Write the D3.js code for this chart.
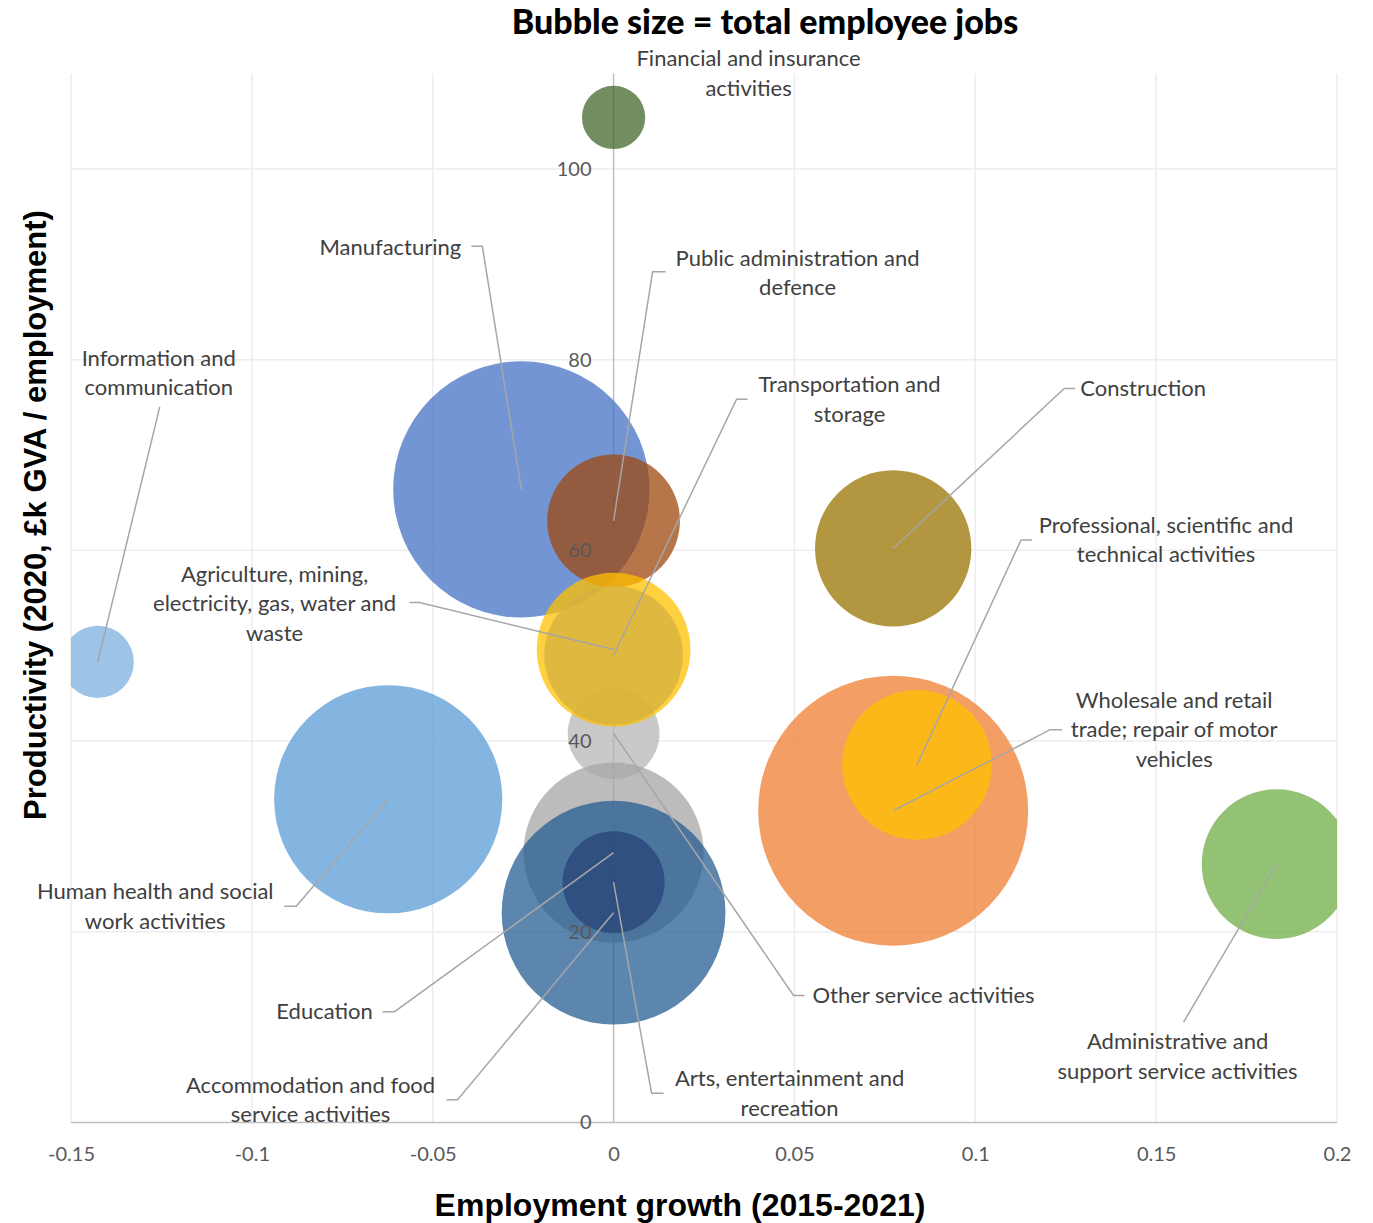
<!DOCTYPE html>
<html>
<head>
<meta charset="utf-8">
<script src="https://cdn.jsdelivr.net/npm/d3@7"></script>
<style>
  body { margin: 0; background: #fff; }
  svg { display: block; }
  .lbl { font-family: Lato, "Open Sans", sans-serif; font-size: 22px; fill: #404040; }
  .tick text { font-family: Lato, "Open Sans", sans-serif; font-size: 20px; fill: #595959; }
</style>
</head>
<body>
<div id="vizholder"></div>
<script>
// sectors, drawn bottom to top
var sectors = ["Manufacturing", "Other service activities", "Education",
  "Accommodation and food service activities", "Arts, entertainment and recreation",
  "Public administration and defence", "Agriculture, mining, electricity, gas, water and waste",
  "Transportation and storage", "Wholesale and retail trade; repair of motor vehicles",
  "Professional, scientific and technical activities", "Construction",
  "Human health and social work activities", "Information and communication",
  "Administrative and support service activities", "Financial and insurance activities"];
// employment growth 2015-2021
var growth = [-0.0255, 0.0, 0.0, 0.0, 0.0, 0.0, 0.0, 0.0, 0.0773, 0.0839, 0.0773, -0.0623, -0.1426, 0.1833, 0.0];
// productivity, £k GVA per employment
var productivity = [66.4, 40.8, 28.3, 22.0, 25.2, 63.1, 49.6, 49.0, 32.7, 37.5, 60.2, 33.9, 48.3, 27.1, 105.4];
// total employee jobs (thousands)
var jobs = [164, 21, 81, 125, 26, 44, 59, 48, 182, 56, 61, 130, 13, 56, 10];

var xTicks = [-0.15, -0.1, -0.05, 0, 0.05, 0.1, 0.15, 0.2];
var xTickLabels = ["-0.15", "-0.1", "-0.05", "0", "0.05", "0.1", "0.15", "0.2"];
var yTicks = [0, 20, 40, 60, 80, 100];

// label text split in lines
var labelLines = [
  ["Manufacturing"], ["Other service activities"], ["Education"],
  ["Accommodation and food", "service activities"], ["Arts, entertainment and", "recreation"],
  ["Public administration and", "defence"], ["Agriculture, mining,", "electricity, gas, water and", "waste"],
  ["Transportation and", "storage"], ["Wholesale and retail", "trade; repair of motor", "vehicles"],
  ["Professional, scientific and", "technical activities"], ["Construction"],
  ["Human health and social", "work activities"], ["Information and", "communication"],
  ["Administrative and", "support service activities"], ["Financial and insurance", "activities"]];

var colors = ["#4472C4", "#B7B7B7", "#A5A5A5", "#255E91", "#264478", "#9E480E", "#FFC000",
  "#D4B040", "#ED7D31", "#FFC000", "#997300", "#5B9BD5", "#7CAFDD", "#70AD47", "#43682B"];

// text centre offset [dx, dy] and leader points (elbow, stub end) from bubble centre
var labelLayout = [
  {t: [-131, -242], p: [[-39, -243], [-50, -243]]},
  {t: [310, 262], p: [[180, 262], [191, 262]]},
  {t: [-289, 159], p: [[-219, 159], [-231, 159]]},
  {t: [-303, 187], p: [[-156, 187], [-167, 187]]},
  {t: [176, 211], p: [[38, 211], [50, 211]]},
  {t: [184, -248], p: [[39, -249], [52, -249]]},
  {t: [-339, -46], p: [[-194, -47], [-204, -47]]},
  {t: [236, -256], p: [[123, -256], [134, -256]]},
  {t: [281, -81], p: [[157, -81], [169, -81]]},
  {t: [249, -225], p: [[104, -225], [115, -225]]},
  {t: [250, -160], p: [[171, -160], [182, -160]]},
  {t: [-233, 107], p: [[-92, 107], [-104, 107]]},
  {t: [61, -289], p: [[62, -255]]},
  {t: [-99, 192], p: [[-93, 158]]},
  {t: [135, -44], p: []}
];

var W = 1373, H = 1223;
var svg = d3.select("#vizholder").append("svg").attr("width", W).attr("height", H);

var x = d3.scaleLinear().domain([-0.15, 0.2]).range([71, 1337]);
var y = d3.scaleLinear().domain([0, 110]).range([1122.5, 73.6]);
var r = d3.scaleSqrt().domain([0, 182]).range([0, 135]);

// gridlines
svg.append("g").selectAll("line").data(yTicks.slice(1)).enter().append("line")
  .attr("x1", x(-0.15)).attr("x2", x(0.2))
  .attr("y1", function(d){ return y(d); }).attr("y2", function(d){ return y(d); })
  .attr("stroke", "#EDEDED").attr("stroke-width", 1.5);
svg.append("g").selectAll("line").data(xTicks.filter(function(d){ return d !== 0; })).enter().append("line")
  .attr("x1", function(d){ return x(d); }).attr("x2", function(d){ return x(d); })
  .attr("y1", y(110)).attr("y2", y(0))
  .attr("stroke", "#EDEDED").attr("stroke-width", 1.5);

// axis lines
svg.append("line").attr("x1", x(0)).attr("x2", x(0)).attr("y1", y(110)).attr("y2", y(0))
  .attr("stroke", "#BFBFBF").attr("stroke-width", 1.5);
svg.append("line").attr("x1", x(-0.15)).attr("x2", x(0.2)).attr("y1", y(0)).attr("y2", y(0))
  .attr("stroke", "#BFBFBF").attr("stroke-width", 1.5);

svg.append("clipPath").attr("id", "plotclip").append("rect")
  .attr("x", x(-0.15)).attr("y", y(110)).attr("width", x(0.2) - x(-0.15)).attr("height", y(0) - y(110));

var data = sectors.map(function(s, i){
  return {name: s, gx: growth[i], py: productivity[i], jobs: jobs[i], color: colors[i],
    lines: labelLines[i], lay: labelLayout[i]};
});

svg.append("g").attr("clip-path", "url(#plotclip)")
  .selectAll("circle").data(data).enter().append("circle")
  .attr("cx", function(d){ return x(d.gx); })
  .attr("cy", function(d){ return y(d.py); })
  .attr("r", function(d){ return r(d.jobs); })
  .style("fill", function(d){ return d.color; })
  .style("fill-opacity", 0.75);

// leader lines
svg.append("g").selectAll("polyline").data(data.filter(function(d){ return d.lay.p.length; }))
  .enter().append("polyline")
  .attr("points", function(d){
    var cx = x(d.gx), cy = y(d.py);
    var pts = [[cx, cy]].concat(d.lay.p.map(function(p){ return [cx + p[0], cy + p[1]]; }));
    return pts.map(function(p){ return p.join(","); }).join(" ");
  })
  .attr("fill", "none").attr("stroke", "#A6A6A6").attr("stroke-width", 1.5);

// axes tick labels
var xAxis = svg.append("g").attr("transform", "translate(0," + y(0) + ")")
  .call(d3.axisBottom(x).tickValues(xTicks).tickSize(0).tickPadding(24)
    .tickFormat(function(d, i){ return xTickLabels[i]; }));
xAxis.select(".domain").remove();

var yAxis = svg.append("g").attr("transform", "translate(" + x(0) + ",0)")
  .call(d3.axisLeft(y).tickValues(yTicks).tickSize(0).tickPadding(22));
yAxis.select(".domain").remove();

// data labels
var lbl = svg.append("g").selectAll("text").data(data).enter().append("text")
  .attr("class", "lbl")
  .attr("text-anchor", "middle");
lbl.each(function(d){
  var cx = x(d.gx) + d.lay.t[0], cy = y(d.py) + d.lay.t[1];
  var n = d.lines.length;
  d3.select(this).selectAll("tspan").data(d.lines).enter().append("tspan")
    .attr("x", cx)
    .attr("y", function(l, i){ return cy + (i - (n - 1) / 2) * 29.5; })
    .attr("dy", "0.35em")
    .text(function(l){ return l; });
});

// titles
svg.append("text").attr("x", 765).attr("y", 34).attr("text-anchor", "middle")
  .style("font-family", "Lato, sans-serif").style("font-weight", "900").style("font-size", "34px")
  .text("Bubble size = total employee jobs");

svg.append("text").attr("x", 680).attr("y", 1216).attr("text-anchor", "middle")
  .style("font-family", "'Liberation Sans', Arial, sans-serif").style("font-weight", "bold").style("font-size", "32px")
  .text("Employment growth (2015-2021)");

svg.append("text").attr("transform", "translate(46,515) rotate(-90)").attr("text-anchor", "middle")
  .style("font-family", "'Liberation Sans', Arial, sans-serif").style("font-weight", "bold").style("font-size", "31px")
  .text("Productivity (2020, £k GVA / employment)");
</script>
</body>
</html>
